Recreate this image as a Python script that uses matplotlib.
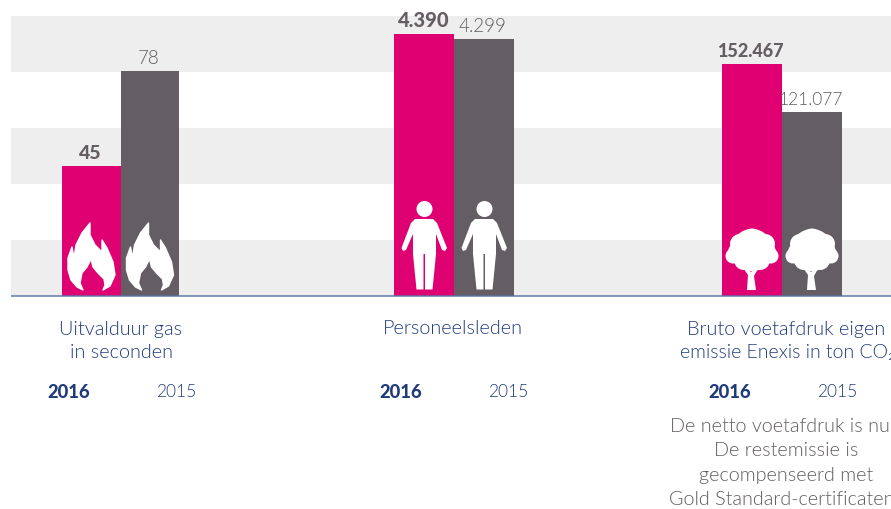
import numpy as np
import matplotlib.pyplot as plt
from matplotlib.patches import Polygon, Circle, Rectangle

plt.rcParams['font.family'] = ['Lato', 'DejaVu Sans']

# chart values, every group has its own scale
labels_2016 = ['45', '4.390', '152.467']
labels_2015 = ['78', '4.299', '121.077']
values_2016 = [45, 4390, 152467]
values_2015 = [78, 4299, 121077]
titles = [['Uitvalduur gas', 'in seconden'], ['Personeelsleden'],
          ['Bruto voetafdruk eigen', 'emissie Enexis in ton CO\u2082']]
years = ['2016', '2015']
note = ['De netto voetafdruk is nul.', 'De restemissie is', 'gecompenseerd met',
        'Gold Standard-certificaten']

W, H = 891, 509
BASE = 296
PINK = '#DF0071'
GREY = '#645D63'
NAVY = '#1F3B7A'
TXT = '#5F5A5F'
LIGHT = 300

group_x = [62, 394, 722]
bar_w = [58.5, 60, 60]
title_x = [[121, 121], [453], [786, 787]]
title_size = [[14.3, 14.3], [14.3], [14.3, 14]]
year_x = [(69, 176), (401, 508), (730, 837)]
top_px = [225, 262, 232]  # height in px of the tallest bar
size_2016 = [14, 14.5, 13]
size_2015 = [13.5, 13.5, 12.5]
note_x = [784, 786, 786, 782]

fig = plt.figure(figsize=(W / 100, H / 100), dpi=100)

bg = fig.add_axes([0, 0, 1, 1], zorder=0)
bg.set_xlim(0, W)
bg.set_ylim(H, 0)
bg.axis('off')
for y0 in (16, 128, 240):
    bg.add_patch(Rectangle((11, y0), W - 11, 56, color='#EEEEEE', lw=0))

# bars, one axes per group
for i in range(3):
    bw = bar_w[i]
    ax = fig.add_axes([group_x[i] / W, (H - BASE) / H, 2 * bw / W, 280 / H], zorder=1)
    ax.patch.set_alpha(0)
    ax.axis('off')
    vmax = max(values_2016[i], values_2015[i])
    ax.set_xlim(-0.5, 1.5)
    ax.set_ylim(0, vmax * 280 / top_px[i])
    ax.bar([0, 1], [values_2016[i], values_2015[i]], width=1.0, color=[PINK, GREY], lw=0)
    ax.annotate(labels_2016[i], (0, values_2016[i]), xytext=(-0.5, 3), textcoords='offset points',
                ha='center', va='bottom', fontsize=size_2016[i], fontweight='black', color=GREY,
                annotation_clip=False)
    ax.annotate(labels_2015[i], (1, values_2015[i]), xytext=(-1, 3), textcoords='offset points',
                ha='center', va='bottom', fontsize=size_2015[i], fontweight=LIGHT, color=TXT,
                annotation_clip=False)

fg = fig.add_axes([0, 0, 1, 1], zorder=2)
fg.set_xlim(0, W)
fg.set_ylim(H, 0)
fg.axis('off')
fg.plot([11, W], [296, 296], color='#5A74A6', lw=1.3, alpha=0.8, solid_capstyle='butt')

# icons, traced in px from the bar's left edge and the baseline
flame = np.array([[28, -73], [20, -63], [14, -51], [12, -38], [10, -49], [6, -38], [6, -26], [9, -16],
                  [15, -9], [21, -6], [18, -13], [20, -23], [25, -29], [29, -37], [31, -29], [36, -23],
                  [42, -17], [43, -11], [41, -6], [48, -10], [53, -21], [51, -34], [45, -48], [40, -56],
                  [40, -44], [33, -51], [28, -61]])
body = np.array([[21, -77], [39, -77], [43, -73], [53, -48], [51, -45], [48, -46], [42, -62], [42, -42],
                 [38.5, -6.5], [31, -6.5], [31, -42], [29.5, -42], [29.5, -6.5], [22.5, -6.5], [19, -42],
                 [19, -62], [12, -46], [9, -45], [7.5, -48], [17, -73]])
trunk = np.array([[25, -6], [34, -6], [32, -20], [37, -29], [34, -29], [29, -24], [23, -30], [19, -31],
                  [26, -21]])
puffs = [(30, -57, 10.5), (18, -52, 10), (43, -52, 10), (11, -40, 7.5), (49, -40, 7.5), (22, -36, 10),
         (38, -36, 10), (30, -46, 21), (15, -44, 9), (45, -44, 9)]

for off in (0, 58.5):
    fg.add_patch(Polygon(flame + [62 + off, BASE], fc='white', ec='white', lw=1, joinstyle='round'))
for off in (0, 60):
    fg.add_patch(Polygon(body + [394 + off, BASE], color='white', lw=0))
    fg.add_patch(Circle((424.5 + off, 209), 8, color='white', lw=0))
    fg.add_patch(Polygon(trunk + [722 + off, BASE], color='white', lw=0))
    for cx, cy, r in puffs:
        fg.add_patch(Circle((722 + off + cx, BASE + cy), r, color='white', lw=0))

# text below the chart
for i in range(3):
    for j, line in enumerate(titles[i]):
        fg.text(title_x[i][j], 329 + j * 24, line, ha='center', va='center', fontsize=title_size[i][j],
                fontweight=LIGHT, color=NAVY)
    fg.text(year_x[i][0], 392, years[0], ha='center', va='center', fontsize=13.2, fontweight='black',
            color=NAVY)
    fg.text(year_x[i][1], 392, years[1], ha='center', va='center', fontsize=12.5, fontweight=LIGHT,
            color=NAVY)
for j, line in enumerate(note):
    fg.text(note_x[j], 426.5 + j * 24.3, line, ha='center', va='center', fontsize=14.2, fontweight=LIGHT,
            color=TXT)

fig.savefig('out.png', dpi=100)
